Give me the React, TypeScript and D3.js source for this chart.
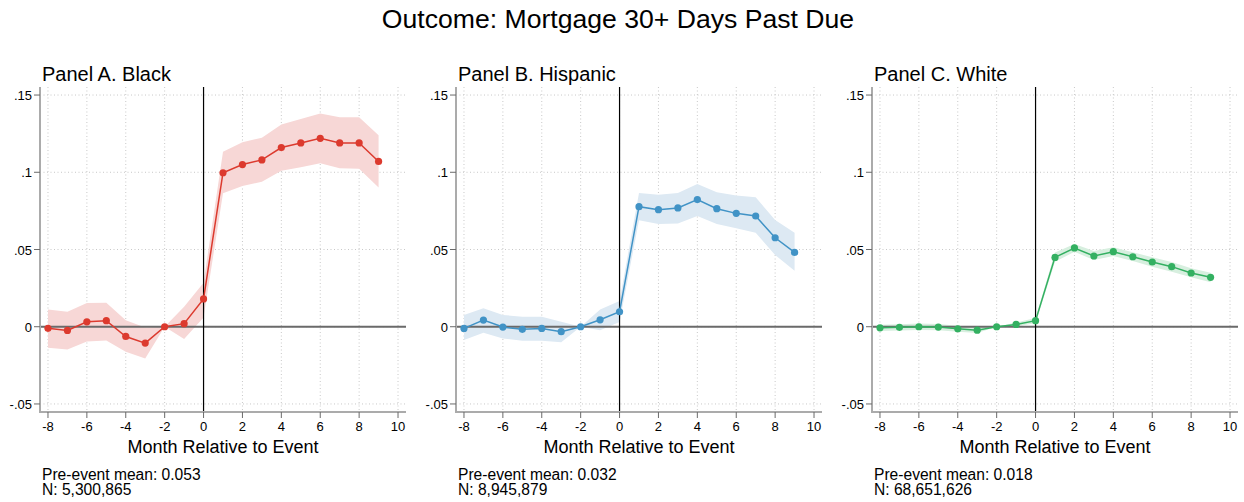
import React, { useRef, useEffect } from 'react';
import * as d3 from 'd3';

// months relative to event
const months = [-8, -7, -6, -5, -4, -3, -2, -1, 0, 1, 2, 3, 4, 5, 6, 7, 8, 9];
const xTicks = [-8, -6, -4, -2, 0, 2, 4, 6, 8, 10];
const yTicks = [-0.05, 0, 0.05, 0.1, 0.15];
const yTickLabels = ['-.05', '0', '.05', '.1', '.15'];

const panelTitles = ['Panel A. Black', 'Panel B. Hispanic', 'Panel C. White'];
const preMeans = ['0.053', '0.032', '0.018'];
const sampleN = ['5,300,865', '8,945,879', '68,651,626'];

const blackEst = [-0.001, -0.0024, 0.0032, 0.0039, -0.0063, -0.0106, 0, 0.002, 0.018, 0.0997, 0.105, 0.108, 0.116, 0.119, 0.122, 0.119, 0.119, 0.107];
const blackHi = [0.0112, 0.0097, 0.0153, 0.0156, 0.0042, -0.0005, 0, 0.013, 0.0285, 0.1133, 0.1194, 0.1224, 0.131, 0.1345, 0.138, 0.1356, 0.1356, 0.124];
const blackLo = [-0.0136, -0.0147, -0.0095, -0.0089, -0.0162, -0.0205, 0, -0.008, 0.006, 0.0864, 0.0911, 0.0939, 0.101, 0.1032, 0.1058, 0.1026, 0.1023, 0.0902];

const hispEst = [-0.0011, 0.0043, -0.0002, -0.0017, -0.0011, -0.0032, 0, 0.0045, 0.0097, 0.0777, 0.0758, 0.0769, 0.0823, 0.0764, 0.0734, 0.0717, 0.0576, 0.0481];
const hispHi = [0.0076, 0.0119, 0.0076, 0.0065, 0.0065, 0.0032, 0, 0.0112, 0.0166, 0.0866, 0.0855, 0.0866, 0.0924, 0.087, 0.085, 0.0838, 0.0691, 0.0609];
const hispLo = [-0.0086, -0.0039, -0.0076, -0.0091, -0.0091, -0.0101, 0, -0.0022, 0.003, 0.069, 0.0665, 0.0669, 0.0717, 0.0665, 0.0637, 0.0609, 0.0464, 0.0363];

const whiteEst = [-0.0007, -0.0004, 0, -0.0002, -0.0013, -0.0022, 0, 0.0015, 0.0039, 0.0449, 0.051, 0.0458, 0.0486, 0.0453, 0.0419, 0.0389, 0.0348, 0.032];
const whiteHi = [0.0013, 0.0016, 0.0021, 0.0018, 0.0006, -0.0004, 0, 0.0027, 0.0056, 0.048, 0.0535, 0.049, 0.0514, 0.0482, 0.045, 0.0419, 0.0378, 0.035];
const whiteLo = [-0.0027, -0.0024, -0.0021, -0.0022, -0.0032, -0.004, 0, 0.0003, 0.0022, 0.042, 0.0485, 0.0432, 0.0458, 0.0425, 0.0389, 0.0356, 0.032, 0.0288];

const lineColors = ['#dc3a2e', '#4193c6', '#33b061'];
const bandColors = ['#f7d7d6', '#dde9f3', '#d7efdf'];

const FONT = '"Liberation Sans", Arial, Helvetica, sans-serif';

const App: React.FC = () => {
  const svgRef = useRef<SVGSVGElement>(null);
  const width = 1244;
  const height = 502;

  useEffect(() => {
    const svg = d3.select(svgRef.current);
    svg.selectAll('*').remove();

    svg.append('rect').attr('width', width).attr('height', height).attr('fill', '#fff');

    // overall title
    svg.append('text')
      .attr('x', 618)
      .attr('y', 28)
      .attr('text-anchor', 'middle')
      .style('font-family', FONT)
      .style('font-size', '26.6px')
      .text('Outcome: Mortgage 30+ Days Past Due');

    const series = [
      { est: blackEst, hi: blackHi, lo: blackLo },
      { est: hispEst, hi: hispHi, lo: hispLo },
      { est: whiteEst, hi: whiteHi, lo: whiteLo }
    ];

    series.forEach((s, p) => {
      const ox = p * 416;
      const left = ox + 40;
      const right = ox + 406;
      const top = 87;
      const bottom = 412;

      const x = d3.scaleLinear().domain([-8.41, 10.41]).range([left, right]);
      const y = d3.scaleLinear().domain([-0.0552, 0.1552]).range([bottom, top]);

      const g = svg.append('g');

      // panel title
      g.append('text')
        .attr('x', ox + 42)
        .attr('y', 81)
        .style('font-family', FONT)
        .style('font-size', '20px')
        .text(panelTitles[p]);

      // grid
      g.selectAll('.hgrid')
        .data(yTicks)
        .enter()
        .append('line')
        .attr('x1', left)
        .attr('x2', right)
        .attr('y1', d => y(d))
        .attr('y2', d => y(d))
        .attr('stroke', '#c8c8c8')
        .attr('stroke-width', 1)
        .attr('stroke-dasharray', '1,2.5');

      g.selectAll('.vgrid')
        .data(xTicks)
        .enter()
        .append('line')
        .attr('x1', d => x(d))
        .attr('x2', d => x(d))
        .attr('y1', top)
        .attr('y2', bottom)
        .attr('stroke', '#c8c8c8')
        .attr('stroke-width', 1)
        .attr('stroke-dasharray', '1,2.5');

      const pts = months.map((m, i) => ({ m, est: s.est[i], hi: s.hi[i], lo: s.lo[i] }));

      // confidence band
      const area = d3.area<{ m: number; hi: number; lo: number }>()
        .x(d => x(d.m))
        .y0(d => y(d.lo))
        .y1(d => y(d.hi));
      g.append('path')
        .datum(pts)
        .attr('fill', bandColors[p])
        .attr('d', area);

      // zero line
      g.append('line')
        .attr('x1', left)
        .attr('x2', right)
        .attr('y1', y(0))
        .attr('y2', y(0))
        .attr('stroke', '#6a6a6a')
        .attr('stroke-width', 2);

      // event line
      g.append('line')
        .attr('x1', x(0))
        .attr('x2', x(0))
        .attr('y1', top)
        .attr('y2', bottom)
        .attr('stroke', '#000')
        .attr('stroke-width', 1.2);

      // estimate line
      const line = d3.line<{ m: number; est: number }>()
        .x(d => x(d.m))
        .y(d => y(d.est));
      g.append('path')
        .datum(pts)
        .attr('fill', 'none')
        .attr('stroke', lineColors[p])
        .attr('stroke-width', 1.5)
        .attr('d', line);

      g.selectAll('.pt')
        .data(pts)
        .enter()
        .append('circle')
        .attr('cx', d => x(d.m))
        .attr('cy', d => y(d.est))
        .attr('r', 3.6)
        .attr('fill', lineColors[p]);

      // axes spines
      g.append('line')
        .attr('x1', left)
        .attr('x2', left)
        .attr('y1', top)
        .attr('y2', bottom + 1)
        .attr('stroke', '#ababab')
        .attr('stroke-width', 2);
      g.append('line')
        .attr('x1', left - 1)
        .attr('x2', right)
        .attr('y1', bottom)
        .attr('y2', bottom)
        .attr('stroke', '#ababab')
        .attr('stroke-width', 2);

      // y ticks
      yTicks.forEach((t, i) => {
        g.append('line')
          .attr('x1', left - 6)
          .attr('x2', left)
          .attr('y1', y(t))
          .attr('y2', y(t))
          .attr('stroke', '#6a6a6a')
          .attr('stroke-width', 1);
        g.append('text')
          .attr('x', left - 8)
          .attr('y', y(t) + 5)
          .attr('text-anchor', 'end')
          .style('font-family', FONT)
          .style('font-size', '13px')
          .text(yTickLabels[i]);
      });

      // x ticks
      xTicks.forEach(t => {
        g.append('line')
          .attr('x1', x(t))
          .attr('x2', x(t))
          .attr('y1', bottom)
          .attr('y2', bottom + 6)
          .attr('stroke', '#6a6a6a')
          .attr('stroke-width', 1);
        g.append('text')
          .attr('x', x(t))
          .attr('y', 431)
          .attr('text-anchor', 'middle')
          .style('font-family', FONT)
          .style('font-size', '13px')
          .text(String(t));
      });

      // x axis title
      g.append('text')
        .attr('x', (left + right) / 2)
        .attr('y', 453)
        .attr('text-anchor', 'middle')
        .style('font-family', FONT)
        .style('font-size', '18px')
        .text('Month Relative to Event');

      // notes
      g.append('text')
        .attr('x', ox + 42)
        .attr('y', 479.5)
        .style('font-family', FONT)
        .style('font-size', '15.6px')
        .text(`Pre-event mean: ${preMeans[p]}`);
      g.append('text')
        .attr('x', ox + 42)
        .attr('y', 494.5)
        .style('font-family', FONT)
        .style('font-size', '15.6px')
        .text(`N: ${sampleN[p]}`);
    });
  }, []);

  return (
    <svg
      ref={svgRef}
      width={width}
      height={height}
      style={{ position: 'absolute', left: 0, top: 0, display: 'block' }}
    />
  );
};

export default App;
